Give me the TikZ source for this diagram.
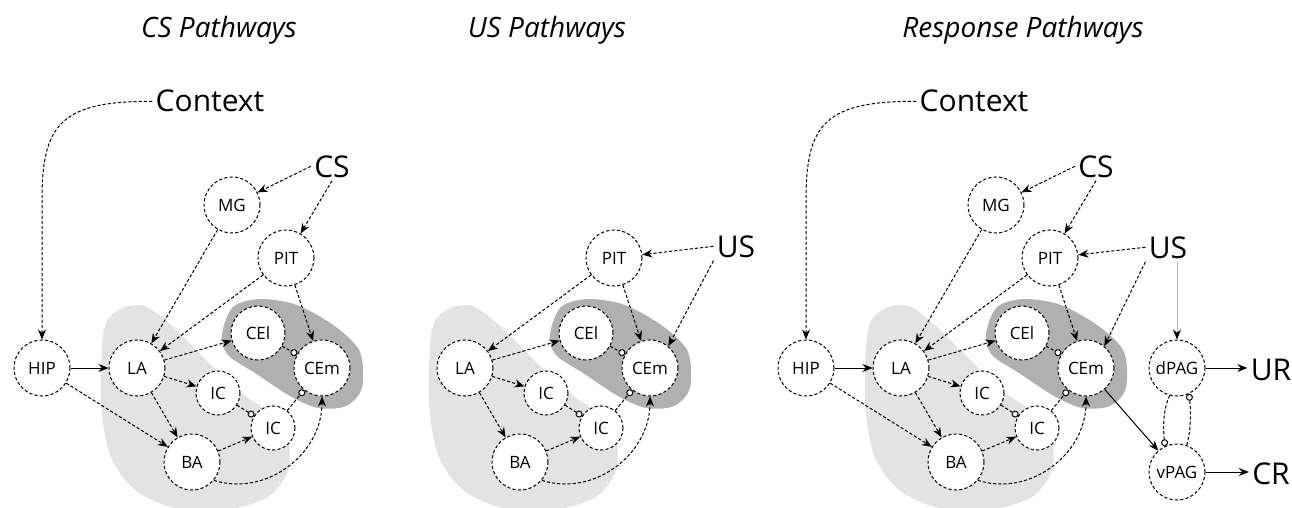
\documentclass[tikz,border=0pt]{standalone}
\usepackage{fontspec}
\setmainfont{Open Sans}
\usetikzlibrary{arrows.meta}

\tikzset{
  cell/.style={circle, draw, line width=0.5pt, dash pattern=on 1.6pt off 1.1pt, fill=white,
    minimum size=28pt, inner sep=0pt, font=\fontsize{8.5}{10}\selectfont},
  smallcell/.style={cell, minimum size=22pt},
  link/.style={line width=0.5pt, dash pattern=on 1.6pt off 1pt, -{Stealth[length=5pt,width=4pt]}},
  solidlink/.style={line width=0.5pt, -{Stealth[length=5pt,width=4pt]}},
  gline/.style={line width=0.5pt, draw=gray!60, -{Stealth[length=5pt,width=4pt,color=black]}},
  inh/.style={line width=0.5pt, dash pattern=on 1.6pt off 1pt, -{Circle[open,fill=white,length=3.5pt]}},
  bigtxt/.style={font=\fontsize{15}{18}\selectfont, inner sep=1.5pt, anchor=base},
  ttl/.style={font=\fontsize{14}{17}\selectfont\itshape, anchor=base},
  lightreg/.style={fill=gray!22},
  darkreg/.style={fill=gray!62},
}

% amygdala core, #1 = name prefix, #2 = x offset
\newcommand{\amyg}[2]{%
\begin{scope}[shift={(#2,0)}]
  \fill[lightreg] plot[smooth cycle] coordinates {(104,330) (120,309) (145,306) (172,326) (202,356)
    (236,389) (266,410) (287,432) (288,470) (268,497) (225,510) (175,508) (135,490) (110,455) (101,400)};
  \fill[darkreg] plot[smooth cycle] coordinates {(222,334) (233,307) (260,299) (297,305) (336,327)
    (360,352) (362,388) (346,406) (318,408) (290,396) (255,373) (228,355)};
  \node[cell] (#1PIT) at (286,258) {PIT};
  \node[cell] (#1LA) at (137,368) {LA};
  \node[cell] (#1BA) at (192,462) {BA};
  \node[cell, minimum size=27pt] (#1CEl) at (258,333) {CEl};
  \node[cell] (#1CEm) at (322,368) {CEm};
  \node[smallcell] (#1ICa) at (218,393) {IC};
  \node[smallcell] (#1ICb) at (273,428) {IC};
  \draw[link] (#1PIT) -- (#1LA);
  \draw[link] (#1PIT) -- (#1CEm);
  \draw[link] (#1LA) -- (#1CEl);
  \draw[link] (#1LA) -- (#1ICa);
  \draw[link] (#1LA) -- (#1BA);
  \draw[link] (#1BA) -- (#1ICb);
  \draw[link] (#1BA.-40) .. controls (265,497) and (322,455) .. (#1CEm.south);
  \draw[inh] (#1CEl) -- (#1CEm);
  \draw[inh] (#1ICa) -- (#1ICb);
  \draw[inh] (#1ICb) -- (#1CEm);
\end{scope}}

% hippocampus, thalamus and cortex inputs
\newcommand{\inputs}[2]{%
\begin{scope}[shift={(#2,0)}]
  \node[cell] (#1HIP) at (42,368) {HIP};
  \node[cell] (#1MG) at (232,205) {MG};
  \node[bigtxt] (#1ctx) at (210,112) {Context};
  \node[bigtxt] (#1CS) at (332,177) {CS};
  \draw[link] (#1ctx.west) .. controls (60,101) and (42,125) .. (42,200) -- (#1HIP);
  \draw[solidlink] (#1HIP) -- (#1LA);
  \draw[link] (#1HIP) -- (#1BA);
  \draw[link] (#1MG) -- (#1LA);
  \draw[link] (#1CS.west) -- (#1MG);
  \draw[link] (#1CS.south) -- (#1PIT);
\end{scope}}

\begin{document}
\begin{tikzpicture}[x=0.5pt, y=-0.5pt]
\useasboundingbox (0,0) rectangle (1292,508);

% titles
\node[ttl] (t1) at (219,38) {CS Pathways};
\node[ttl] (t2) at (547,38) {US Pathways};
\node[ttl] (t3) at (1023,38) {Response Pathways};

% CS pathways
\amyg{a}{0}
\inputs{a}{0}

% US pathways
\amyg{b}{328}
\node[bigtxt] (bUS) at (736,257) {US};
\draw[link] (bUS.west) -- (bPIT);
\draw[link] (bUS.south west) -- (bCEm.50);

% response pathways
\amyg{c}{764}
\inputs{c}{764}
\node[bigtxt] (cUS) at (1168,258) {US};
\node[cell] (dPAG) at (1177,368) {dPAG};
\node[cell] (vPAG) at (1177,472) {vPAG};
\node[bigtxt] (UR) at (1271,380) {UR};
\node[bigtxt] (CR) at (1271,484) {CR};
\draw[link] (cUS.west) -- (cPIT);
\draw[link] (cUS.south west) -- (cCEm.50);
\draw[gline] (cUS.south -| dPAG) -- (dPAG);
\draw[solidlink] (cCEm) -- (vPAG);
\draw[inh] (dPAG.255) .. controls (1163,410) and (1163,428) .. (vPAG.115);
\draw[inh] (vPAG.70) .. controls (1191,430) and (1191,412) .. (dPAG.-65);
\draw[solidlink] (dPAG.east) -- (dPAG.east -| UR.west);
\draw[solidlink] (vPAG.east) -- (vPAG.east -| CR.west);
\end{tikzpicture}
\end{document}
